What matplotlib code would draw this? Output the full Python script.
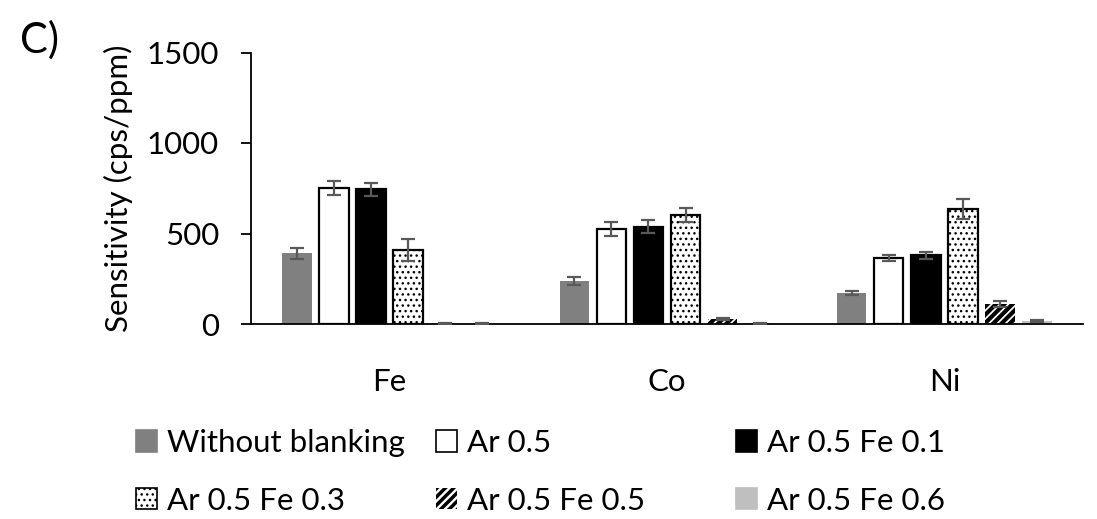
import matplotlib
matplotlib.use("Agg")
import matplotlib.pyplot as plt
import numpy as np
from matplotlib.patches import Patch

plt.rcParams['font.family'] = ['Lato', 'DejaVu Sans']
plt.rcParams['hatch.linewidth'] = 1.0

elements = ["Fe", "Co", "Ni"]
series = ["Without blanking", "Ar 0.5", "Ar 0.5 Fe 0.1",
          "Ar 0.5 Fe 0.3", "Ar 0.5 Fe 0.5", "Ar 0.5 Fe 0.6"]
values = [
    [390, 237, 170],   # Without blanking
    [750, 525, 365],   # Ar 0.5
    [744, 537, 380],   # Ar 0.5 Fe 0.1
    [409, 602, 635],   # Ar 0.5 Fe 0.3
    [2, 27, 110],      # Ar 0.5 Fe 0.5
    [2, 3, 15],        # Ar 0.5 Fe 0.6
]
errors = [
    [30, 23, 10],
    [40, 40, 15],
    [37, 35, 20],
    [63, 40, 55],
    [1, 5, 18],
    [1, 1, 5],
]
yticks = [0, 500, 1000, 1500]

styles = [
    dict(facecolor="#808080", edgecolor="none", hatch=None),
    dict(facecolor="white", edgecolor="black", hatch=None),
    dict(facecolor="black", edgecolor="black", hatch=None),
    dict(facecolor="white", edgecolor="black", hatch="..."),
    dict(facecolor="white", edgecolor="none", hatch="////"),
    dict(facecolor="#bfbfbf", edgecolor="none", hatch=None),
]

FS = 22.5


def thick_stripes(patch, lw=3.0):
    try:
        patch.set_hatch_linewidth(lw)
    except AttributeError:
        pass


fig = plt.figure(figsize=(10.97, 5.19), dpi=100)
ax = fig.add_axes([251/1097, 1-324/519, (1083-251)/1097, (324-52.5)/519])

x = np.arange(len(elements))
step = 0.1336
width = 0.106
for i, (vals, errs, st) in enumerate(zip(values, errors, styles)):
    pos = x + (i - 2.5) * step
    bars = ax.bar(pos, vals, width, facecolor=st["facecolor"],
                  edgecolor=st["edgecolor"], linewidth=1.6,
                  hatch=st["hatch"], zorder=2)
    if st["hatch"] == "////":
        for b in bars:
            b.set_edgecolor("black")
            b.set_linewidth(0)
            thick_stripes(b)
    ax.errorbar(pos, vals, yerr=errs, fmt="none", ecolor="#595959",
                elinewidth=1.6, capsize=5, capthick=1.6, zorder=3)

ax.set_xlim(-0.5, 2.5)
ax.set_ylim(0, 1500)
ax.set_yticks(yticks)
ax.set_xticks(x)
ax.set_xticklabels(elements)
for s in ["top", "right"]:
    ax.spines[s].set_visible(False)
for s in ["left", "bottom"]:
    ax.spines[s].set_linewidth(1.3)
ax.tick_params(axis="y", length=7, width=1.3, pad=16, labelsize=FS, colors="#000000")
ax.tick_params(axis="x", length=0, pad=32, labelsize=FS)
ax.set_ylabel("Sensitivity (cps/ppm)", fontsize=FS, labelpad=10)

fig.text(20/1097, 1-40/519, "C)", fontsize=30, va="center", ha="left")

handles = []
for st, name in zip(styles, series):
    ec = st["edgecolor"] if st["edgecolor"] != "none" else st["facecolor"]
    if st["hatch"] == "////":
        ec = "black"
    h = Patch(facecolor=st["facecolor"], edgecolor=ec, hatch=st["hatch"],
              linewidth=0 if st["hatch"] == "////" else 1.2, label=name)
    handles.append(h)

cols = [[0, 3], [1, 4], [2, 5]]
col_x = [136/1097, 436/1097, 736/1097]
for cx, idx in zip(col_x, cols):
    leg = fig.legend([handles[k] for k in idx], [series[k] for k in idx],
                     loc="upper left", bbox_to_anchor=(cx, 1-429/519),
                     frameon=False, fontsize=FS, handlelength=0.68,
                     handleheight=0.68, handletextpad=0.3, labelspacing=0.95,
                     borderaxespad=0, borderpad=0)
    for hp in leg.legend_handles:
        if hp.get_hatch() == "////":
            thick_stripes(hp, 2.5)

fig.savefig("out.png", dpi=100)
